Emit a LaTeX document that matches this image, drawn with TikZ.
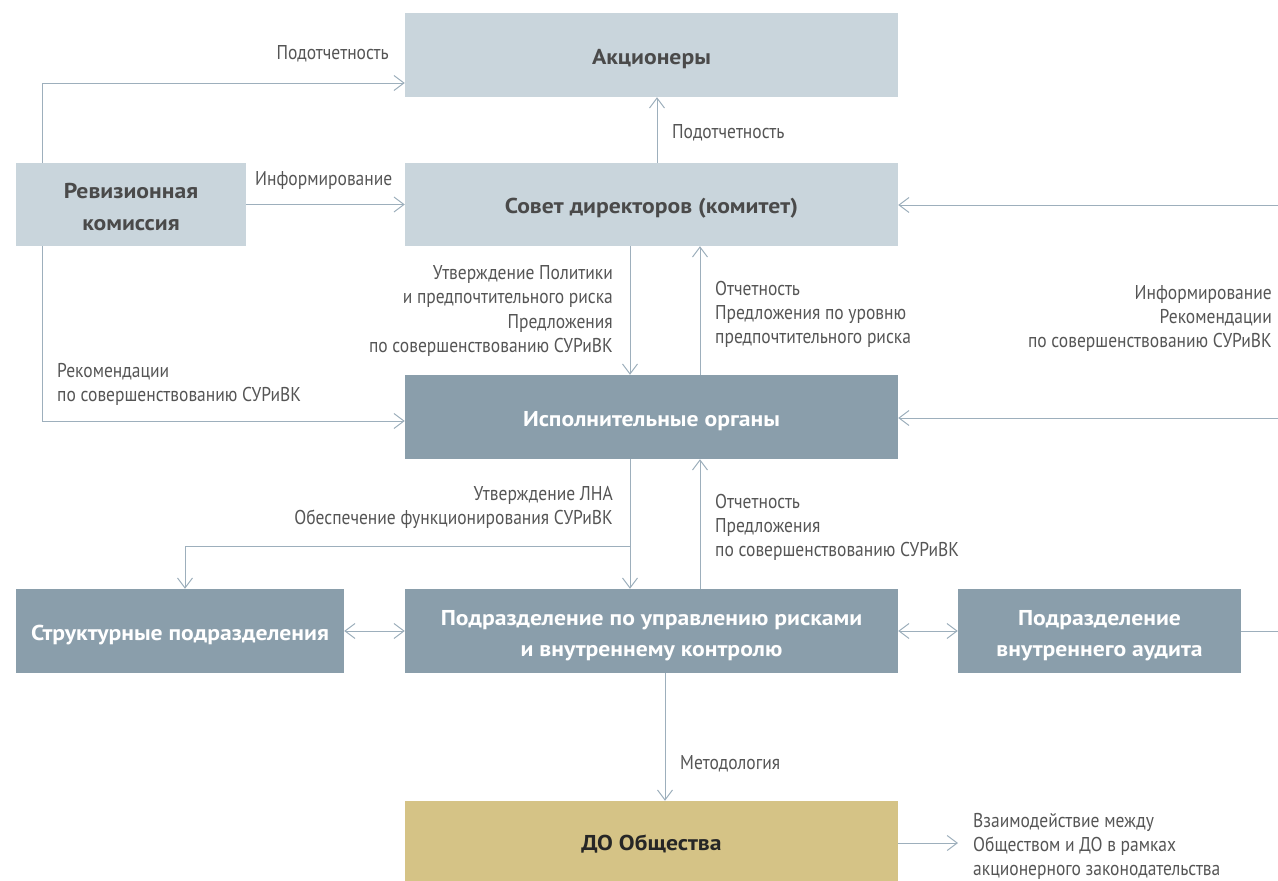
\documentclass[tikz,border=0pt]{standalone}
\usepackage{fontspec}
\setmainfont{PT Sans}
\newfontfamily\lblfont[FakeStretch=0.875]{PT Sans}
\newfontfamily\boxfont[FakeStretch=1.1]{PT Sans}
\usetikzlibrary{arrows.meta}
\definecolor{lightbox}{HTML}{C9D5DC}
\definecolor{darkbox}{HTML}{8A9EAB}
\definecolor{goldbox}{HTML}{D5C386}
\definecolor{linec}{HTML}{9DAFBC}
\definecolor{boxtxt}{HTML}{4A4A4A}
\definecolor{lbltxt}{HTML}{555555}
\newcommand{\tallstrut}{\rule{0pt}{24pt}}
\tikzset{
  box/.style={inner sep=0pt, align=center, font=\boxfont\fontsize{21.5}{31.5}\selectfont\bfseries,
    execute at begin node={\rule{0pt}{22.5pt}}},
  lbox/.style={box, fill=lightbox, text=boxtxt},
  dbox/.style={box, fill=darkbox, text=white},
  gbox/.style={box, fill=goldbox, text=black!85},
  lbl/.style={inner sep=0pt, yshift=-2.5pt, text=lbltxt, font=\lblfont\fontsize{20}{24.3}\selectfont},
  conn/.style={draw=linec, line width=1pt},
  arr/.style={conn, -{Straight Barb[length=10pt,width=15pt,line width=1pt]}},
  darr/.style={conn, {Straight Barb[length=10pt,width=15pt,line width=1pt]}-{Straight Barb[length=10pt,width=15pt,line width=1pt]}}
}
\begin{document}
\begin{tikzpicture}[x=1pt,y=-1pt]
\useasboundingbox (0,0) rectangle (1278,881);
% boxes
\node[lbox, minimum width=493pt, minimum height=84pt] (ak) at (651.5,55) {Акционеры};
\node[lbox, minimum width=493pt, minimum height=83pt] (sd) at (651.5,204.5) {Совет директоров (комитет)};
\node[lbox, minimum width=230pt, minimum height=83pt] (rk) at (131,204.5) {\rule{0pt}{20pt}Ревизионная\\комиссия};
\node[dbox, minimum width=493pt, minimum height=84pt] (io) at (651.5,417) {Исполнительные органы};
\node[dbox, minimum width=328pt, minimum height=84pt] (sp) at (180,631) {Структурные подразделения};
\node[dbox, minimum width=493pt, minimum height=84pt] (pu) at (651.5,631) {\tallstrut Подразделение по управлению рисками\\и внутреннему контролю};
\node[dbox, minimum width=283pt, minimum height=84pt] (pa) at (1099.5,631) {\tallstrut Подразделение\\внутреннего аудита};
\node[gbox, minimum width=493pt, minimum height=80pt] (do) at (651.5,841) {ДО Общества};
% free ends
\coordinate (r1) at (1278,205);
\coordinate (r2) at (1278,418);
\coordinate (r3) at (1278,631);
\coordinate (r4) at (958,843);
% connectors
\draw[arr] ([xshift=27pt]rk.north west) |- ([yshift=-28pt]ak.west);
\draw[arr] ([xshift=27pt]rk.south west) |- ([yshift=-4pt]io.west);
\draw[arr] (rk.east) -- (sd.west);
\draw[arr] (sd.north -| 657,0) -- (ak.south -| 657,0);
\draw[arr] (sd.south -| 630,0) -- (io.north -| 630,0);
\draw[arr] (io.north -| 700,0) -- (sd.south -| 700,0);
\draw[arr] (r1) -- (sd.east |- r1);
\draw[arr] (r2) -- (io.east |- r2);
\draw[arr] (io.south -| 630,0) -- (pu.north -| 630,0);
\draw[arr] (630,546) -| (sp.north -| 185,0);
\draw[arr] (pu.north -| 700,0) -- (io.south -| 700,0);
\draw[darr] (sp.east) -- (pu.west);
\draw[darr] (pu.east) -- (pa.west);
\draw[conn] (pa.east) -- (r3);
\draw[arr] (pu.south -| 665,0) -- (do.north -| 665,0);
\draw[arr] (do.east |- r4) -- (r4);
% labels
\node[lbl, anchor=east] (l1) at (389,51) {Подотчетность};
\node[lbl, anchor=west] (l2) at (255,178) {Информирование};
\node[lbl, anchor=west, align=left] (l3) at (57,382) {Рекомендации\\по совершенствованию СУРиВК};
\node[lbl, anchor=west] (l4) at (672,130) {Подотчетность};
\node[lbl, anchor=east, align=right] (l5) at (613,308.5) {Утверждение Политики\\и предпочтительного риска\\Предложения\\по совершенствованию СУРиВК};
\node[lbl, anchor=west, align=left] (l6) at (715,312) {Отчетность\\Предложения по уровню\\предпочтительного риска};
\node[lbl, anchor=east, align=right] (l7) at (1272,316) {Информирование\\Рекомендации\\по совершенствованию СУРиВК};
\node[lbl, anchor=east, align=right] (l8) at (613,505) {Утверждение ЛНА\\Обеспечение функционирования СУРиВК};
\node[lbl, anchor=west, align=left] (l9) at (715,525) {Отчетность\\Предложения\\по совершенствованию СУРиВК};
\node[lbl, anchor=west] (l10) at (680,761) {Методология};
\node[lbl, anchor=west, align=left] (l11) at (973,844) {Взаимодействие между\\Обществом и ДО в рамках\\акционерного законодательства};
\end{tikzpicture}
\end{document}
